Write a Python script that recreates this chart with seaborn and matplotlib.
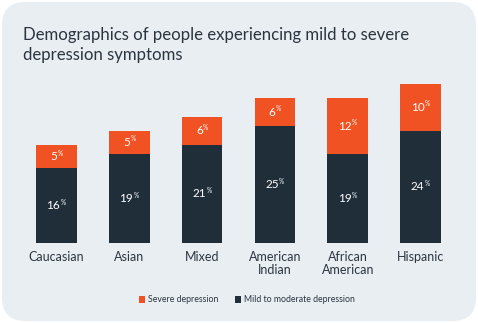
import matplotlib
matplotlib.use("Agg")
import matplotlib.pyplot as plt
import seaborn as sns
import pandas as pd
from matplotlib.patches import FancyBboxPatch, Rectangle

categories = ["Caucasian", "Asian", "Mixed", "American\nIndian", "African\nAmerican", "Hispanic"]
mild = [16, 19, 21, 25, 19, 24]
severe = [5, 5, 6, 6, 12, 10]
title_lines = ["Demographics of people experiencing mild to severe", "depression symptoms"]
legend_labels = ["Severe depression", "Mild to moderate depression"]

ORANGE = "#F15223"
NAVY = "#202E3A"
BG = "#E9EEF2"
TEXT = "#2B3540"

sns.set_theme(style="white")
plt.rcParams["font.family"] = ["Lato", "DejaVu Sans"]

df = pd.DataFrame({"cat": categories, "mild": mild, "severe": severe})
df["total"] = df["mild"] + df["severe"]

W, H = 478, 323
fig = plt.figure(figsize=(W / 100, H / 100), dpi=100)
fig.patch.set_facecolor("white")
bgp = FancyBboxPatch((0.004, 0.006), 0.992, 0.988, boxstyle="round,pad=0,rounding_size=0.05",
                     transform=fig.transFigure, facecolor=BG, edgecolor="none", zorder=-10,
                     mutation_aspect=W / H)
fig.patches.append(bgp)

ax = fig.add_axes([20 / W, 1 - 243 / H, (457 - 20) / W, (243 - 84) / H])
ax.set_facecolor("none")

sns.barplot(data=df, x="cat", y="total", color=ORANGE, width=0.56, saturation=1, ax=ax,
            zorder=2, linewidth=0, edgecolor="none")
sns.barplot(data=df, x="cat", y="mild", color=NAVY, width=0.56, saturation=1, ax=ax,
            zorder=3, linewidth=0, edgecolor="none")

ax.set_ylim(0, 34)
ax.set_xlim(-0.5, len(categories) - 0.5)
for s in ax.spines.values():
    s.set_visible(False)
ax.set_yticks([])
ax.set_xlabel("")
ax.set_ylabel("")
ax.tick_params(axis="x", length=0, pad=6, labelsize=9, labelcolor=TEXT)
ax.set_xticks(range(len(categories)))
ax.set_xticklabels(categories, linespacing=1.1, va="top")

def pct_label(x, y, val):
    n = len(str(val))
    d = (4.6 * n - 3.6) / 2
    ax.annotate(str(val), xy=(x, y), xytext=(d, 0), textcoords="offset points",
                ha="right", va="center", color="white", fontsize=8.5, zorder=5)
    ax.annotate("%", xy=(x, y), xytext=(d + 0.3, 2.5), textcoords="offset points",
                ha="left", va="center", color="white", fontsize=4.8, zorder=5)

for i, (m, s) in enumerate(zip(mild, severe)):
    pct_label(i, m / 2, m)
    pct_label(i, m + s / 2, s)

fig.text(23 / W, 1 - 40 / H, title_lines[0], ha="left", va="baseline", fontsize=12.1, color=TEXT)
fig.text(23 / W, 1 - 60 / H, title_lines[1], ha="left", va="baseline", fontsize=12.1, color=TEXT)

# legend
ly = 1 - 299 / H
fig.patches.append(Rectangle((139 / W, ly - 3.5 / H), 6 / W, 7 / H, transform=fig.transFigure,
                             facecolor=ORANGE, edgecolor="none"))
fig.text(148 / W, ly, legend_labels[0], ha="left", va="center", fontsize=6.3, color=TEXT)
fig.patches.append(Rectangle((235 / W, ly - 3.5 / H), 6 / W, 7 / H, transform=fig.transFigure,
                             facecolor=NAVY, edgecolor="none"))
fig.text(244 / W, ly, legend_labels[1], ha="left", va="center", fontsize=6.3, color=TEXT)

fig.savefig("out.png", dpi=100, facecolor="white")
